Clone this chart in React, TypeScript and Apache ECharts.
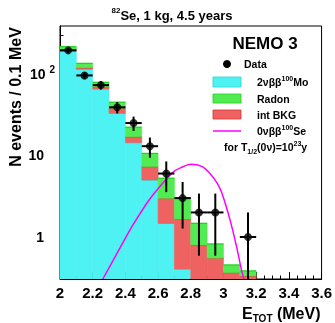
import React, { useEffect, useRef } from 'react';
import * as echarts from 'echarts';

// Histogram bins (lower edges, MeV) and stacked components (events / 0.1 MeV)
const binStarts = [2.0, 2.1, 2.2, 2.3, 2.4, 2.5, 2.6, 2.7, 2.8, 2.9, 3.0, 3.1];
const binWidth = 0.1;
const twoNuMo = [191, 115, 65.5, 33, 14.4, 5.0, 1.47, 0.405, 0, 0, 0, 0];
const intBkg = [10, 4.5, 4.5, 5, 2.6, 2.3, 1.51, 1.26, 0.8, 0.55, 0.365, 0.332];
const radon = [15, 15.5, 9, 7, 5.2, 3.3, 2.27, 1.32, 0.67, 0.27, 0.088, 0.051];

// Data points
const dataE = [2.05, 2.15, 2.25, 2.35, 2.45, 2.55, 2.65, 2.75, 2.85, 2.95, 3.15];
const dataN = [195, 96, 73, 39, 25, 13, 6, 3, 2, 2, 1];
const dataErr = [14, 9.8, 8.5, 6.2, 5, 3.6, 2.45, 1.73, 1.41, 1.41, 1];

// 0vbb signal curve
const signalE = [2.262, 2.394, 2.44, 2.545, 2.64, 2.7, 2.74, 2.8, 2.87, 2.92, 2.96, 2.99, 3.04, 3.08, 3.11, 3.125];
const signalN = [0.305, 0.919, 1.34, 2.84, 4.86, 6.44, 7.1, 7.8, 7.3, 5.93, 4.6, 3.46, 1.62, 0.76, 0.394, 0.305];

// Axis ticks
const yLabelValues = [1, 10, 100];
const yMinorTicks = [0.4, 0.5, 0.6, 0.7, 0.8, 0.9, 2, 3, 4, 5, 6, 7, 8, 9, 20, 30, 40, 50, 60, 70, 80, 90, 200, 300];

export default function App() {
  const ref = useRef<HTMLDivElement>(null);
  useEffect(() => {
    if (!ref.current) return;
    const chart = echarts.init(ref.current, undefined, { renderer: 'svg' });
    const yMin = 0.305;
    const yMax = 388;
    const font = '"Liberation Sans", Arial, Helvetica, sans-serif';

    const stacks = binStarts.map((x0, i) => {
      const c1 = twoNuMo[i];
      const c2 = c1 + intBkg[i];
      const c3 = c2 + radon[i];
      return { x0, x1: x0 + binWidth, c1, c2, c3 };
    });
    const clampLo = (v: number) => Math.max(v, yMin);
    const histData = (lo: (s: any) => number, hi: (s: any) => number) =>
      stacks.map((s) => [s.x0, s.x1, clampLo(lo(s)), clampLo(hi(s))]);

    const makeHist = (name: string, data: number[][], fill: string, edge: string, z: number) => ({
      type: 'custom',
      name,
      z,
      clip: true,
      encode: { x: [0, 1], y: [2, 3] },
      data,
      renderItem: (params: any, api: any) => {
        const x0 = api.value(0);
        const x1 = api.value(1);
        const lo = api.value(2);
        const hi = api.value(3);
        if (hi <= yMin * 1.0001) return null;
        const pTop = api.coord([x0, hi]);
        const pBot = api.coord([x1, lo]);
        return {
          type: 'group',
          children: [
            {
              type: 'rect',
              shape: { x: pTop[0], y: pTop[1], width: pBot[0] - pTop[0], height: pBot[1] - pTop[1] },
              style: { fill, stroke: fill, lineWidth: 0.6 },
            },
            {
              type: 'line',
              shape: { x1: pTop[0], y1: pTop[1], x2: pBot[0], y2: pTop[1] },
              style: { stroke: edge, lineWidth: 1.2 },
            },
          ],
        };
      },
    });

    const cyan = '#4ef2f2';
    const green = '#52ec52';
    const red = '#ee6262';

    const base = { fontFamily: font, fontWeight: 'bold', fill: '#000' } as any;

    const option: any = {
      animation: false,
      grid: {
        left: 60,
        right: 11,
        top: 26,
        bottom: 44,
        show: true,
        borderColor: '#000',
        borderWidth: 1,
        backgroundColor: 'transparent',
      },
      xAxis: {
        type: 'value',
        min: 2,
        max: 3.6,
        interval: 0.2,
        axisLine: { show: true, lineStyle: { color: '#000', width: 1 } },
        axisTick: { show: true, inside: true, length: 7, lineStyle: { color: '#000' } },
        minorTick: { show: true, splitNumber: 4, length: 3.5, lineStyle: { color: '#000' } },
        splitLine: { show: false },
        axisLabel: {
          margin: 6,
          fontFamily: font,
          fontWeight: 'bold',
          fontSize: 15,
          color: '#000',
          formatter: (v: number) => String(Math.round(v * 10) / 10),
        },
      },
      yAxis: [
        {
          type: 'log',
          logBase: 10,
          min: yMin,
          max: yMax,
          axisLine: { show: true, lineStyle: { color: '#000', width: 1 } },
          axisTick: { show: true, inside: true, length: 7, customValues: yLabelValues, lineStyle: { color: '#000' } },
          splitLine: { show: false },
          axisLabel: {
            customValues: yLabelValues,
            margin: 5,
            color: '#000',
            formatter: (v: number) => (v > 50 ? '{b|10}{s|2}' : `{n|${Math.round(v)}}`),
            rich: {
              n: { fontFamily: font, fontWeight: 'bold', fontSize: 14, padding: [0, 11, 0, 0], lineHeight: 18 },
              b: { fontFamily: font, fontWeight: 'bold', fontSize: 14, lineHeight: 18 },
              s: { fontFamily: font, fontWeight: 'bold', fontSize: 10, verticalAlign: 'top', padding: [0, 0, 0, 4] },
            },
          },
        },
        {
          type: 'log',
          logBase: 10,
          min: yMin,
          max: yMax,
          position: 'left',
          axisLine: { show: false },
          axisTick: { show: true, inside: true, length: 3.5, customValues: yMinorTicks, lineStyle: { color: '#000' } },
          axisLabel: { show: false },
          splitLine: { show: false },
        },
      ],
      series: [
        makeHist('2vbb Mo', histData(() => 0, (s) => s.c1), cyan, '#2ad6d6', 2),
        makeHist('int BKG', histData((s) => s.c1, (s) => s.c2), red, '#e03030', 3),
        makeHist('Radon', histData((s) => s.c2, (s) => s.c3), green, '#22d022', 3),
        {
          type: 'line',
          name: '0vbb Se',
          z: 5,
          data: signalE.map((e, i) => [e, signalN[i]]),
          showSymbol: false,
          smooth: 0.3,
          lineStyle: { color: '#ff00ff', width: 1.5 },
          clip: true,
        },
        {
          type: 'custom',
          name: 'errors',
          z: 8,
          clip: true,
          encode: { x: 0, y: 1 },
          data: dataE.map((e, i) => [e, dataN[i], dataErr[i]]),
          renderItem: (params: any, api: any) => {
            const e = api.value(0);
            const n = api.value(1);
            const er = api.value(2);
            const c = api.coord([e, n]);
            const l = api.coord([e - binWidth / 2, n]);
            const r = api.coord([e + binWidth / 2, n]);
            const top = api.coord([e, n + er]);
            const bot = api.coord([e, Math.max(n - er, yMin)]);
            return {
              type: 'group',
              children: [
                { type: 'line', shape: { x1: l[0], y1: c[1], x2: r[0], y2: c[1] }, style: { stroke: '#000', lineWidth: 2 } },
                { type: 'line', shape: { x1: c[0], y1: top[1], x2: c[0], y2: bot[1] }, style: { stroke: '#000', lineWidth: 2 } },
              ],
            };
          },
        },
        {
          type: 'scatter',
          name: 'Data',
          z: 9,
          symbol: 'circle',
          symbolSize: 8,
          itemStyle: { color: '#000' },
          data: dataE.map((e, i) => [e, dataN[i]]),
        },
      ],
      graphic: [
        {
          type: 'text',
          x: 172,
          y: 15,
          z: 20,
          style: {
            text: '{s|82}{b|Se, 1 kg, 4.5 years}',
            align: 'center',
            verticalAlign: 'middle',
            rich: {
              s: { ...base, fontSize: 8, verticalAlign: 'top' },
              b: { ...base, fontSize: 13, lineHeight: 18 },
            },
          },
        },
        {
          type: 'text',
          x: 15,
          y: 97,
          z: 20,
          rotation: Math.PI / 2,
          style: { ...base, text: 'N events / 0.1 MeV', fontSize: 16, align: 'center', verticalAlign: 'middle' },
        },
        {
          type: 'text',
          x: 265,
          y: 43,
          z: 20,
          style: { ...base, text: 'NEMO 3', fontSize: 17, align: 'center', verticalAlign: 'middle' },
        },
        // legend
        { type: 'circle', z: 20, shape: { cx: 227, cy: 64, r: 4 }, style: { fill: '#000' } },
        { type: 'text', x: 244, y: 64, z: 20, style: { ...base, text: 'Data', fontSize: 10.5, verticalAlign: 'middle' } },
        { type: 'rect', z: 20, shape: { x: 213, y: 77, width: 28, height: 10 }, style: { fill: cyan, stroke: '#2ad6d6', lineWidth: 0.8 } },
        {
          type: 'text',
          x: 257,
          y: 82,
          z: 20,
          style: {
            text: '{b|2νββ}{s|100}{b|Mo}',
            verticalAlign: 'middle',
            rich: {
              b: { ...base, fontSize: 10.5, lineHeight: 15 },
              s: { ...base, fontSize: 7, verticalAlign: 'top' },
            },
          },
        },
        { type: 'rect', z: 20, shape: { x: 213, y: 94, width: 28, height: 9 }, style: { fill: green, stroke: '#22d022', lineWidth: 0.8 } },
        { type: 'text', x: 257, y: 98.5, z: 20, style: { ...base, text: 'Radon', fontSize: 10.5, verticalAlign: 'middle' } },
        { type: 'rect', z: 20, shape: { x: 213, y: 110, width: 28, height: 9 }, style: { fill: red, stroke: '#e03030', lineWidth: 0.8 } },
        { type: 'text', x: 257, y: 115, z: 20, style: { ...base, text: 'int BKG', fontSize: 10.5, verticalAlign: 'middle' } },
        { type: 'line', z: 20, shape: { x1: 213, y1: 131, x2: 241, y2: 131 }, style: { stroke: '#ff00ff', lineWidth: 1.5 } },
        {
          type: 'text',
          x: 257,
          y: 131,
          z: 20,
          style: {
            text: '{b|0νββ}{s|100}{b|Se}',
            verticalAlign: 'middle',
            rich: {
              b: { ...base, fontSize: 10.5, lineHeight: 15 },
              s: { ...base, fontSize: 7, verticalAlign: 'top' },
            },
          },
        },
        {
          type: 'text',
          x: 224,
          y: 147,
          z: 20,
          style: {
            text: '{b|for T}{d|1/2}{b|(0ν)=10}{s|23}{b|y}',
            verticalAlign: 'middle',
            rich: {
              b: { ...base, fontSize: 10.5, lineHeight: 15 },
              s: { ...base, fontSize: 7, verticalAlign: 'top' },
              d: { ...base, fontSize: 7, verticalAlign: 'bottom' },
            },
          },
        },
        {
          type: 'text',
          x: 242,
          y: 313,
          z: 20,
          style: {
            text: '{b|E}{d|TOT}{b| (MeV)}',
            verticalAlign: 'middle',
            rich: {
              b: { ...base, fontSize: 16, lineHeight: 20 },
              d: { ...base, fontSize: 10, verticalAlign: 'bottom' },
            },
          },
        },
      ],
    };
    chart.setOption(option);
    return () => chart.dispose();
  }, []);
  return <div ref={ref} style={{ position: 'fixed', left: 0, top: 0, width: 335, height: 323 }} />;
}
